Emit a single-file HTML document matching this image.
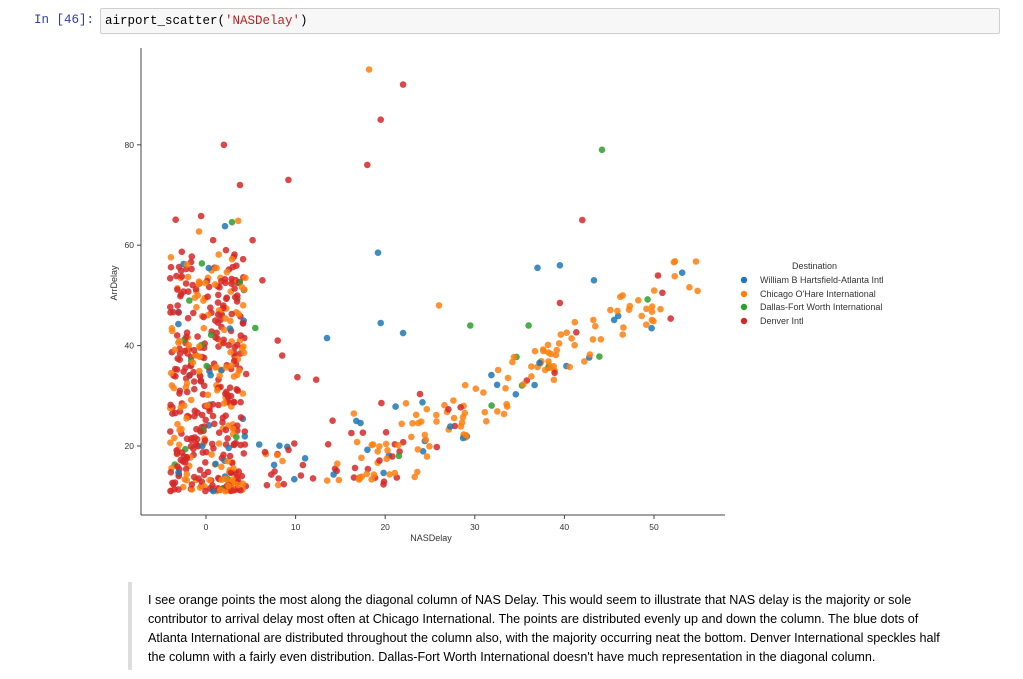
<!DOCTYPE html>
<html><head><meta charset="utf-8"><style>
body{margin:0;background:#fff;width:1023px;height:679px;overflow:hidden;position:relative;font-family:"Liberation Sans",sans-serif}
.prompt{position:absolute;left:34px;top:13px;font:12.5px "Liberation Mono",monospace;color:#303f9f}
.cell{position:absolute;left:100px;top:8px;width:900px;height:26px;background:#f7f7f7;border:1px solid #cfcfcf;border-radius:2px;box-sizing:border-box;font:12.5px "Liberation Mono",monospace;padding:5px 4px;color:#000}
.s{color:#ba2121}
.quote{position:absolute;left:128px;top:582px;width:4px;height:88px;background:#ddd}
.txt{position:absolute;left:148px;top:591px;width:860px;font-size:12.6px;line-height:19px;color:#000;white-space:nowrap}
</style></head><body>
<div class="prompt">In [46]:</div>
<div class="cell">airport_scatter(<span class="s">'NASDelay'</span>)</div>
<svg id="c" width="1023" height="679" style="position:absolute;left:0;top:0" font-family="Liberation Sans, sans-serif">
<g id="pts"></g>
<line x1="141" y1="48" x2="141" y2="515" stroke="#444" stroke-width="1"/>
<line x1="141" y1="515" x2="725" y2="515" stroke="#444" stroke-width="1"/>
<g font-size="8.5" fill="#333" text-anchor="middle">
<g id="xt"></g><g id="yt" text-anchor="end"></g>
<text x="431" y="541" font-size="9">NASDelay</text>
<text x="117" y="283" font-size="9" transform="rotate(-90 117 283)">ArrDelay</text>
</g>
<g font-size="9" fill="#333">
<text x="792" y="269">Destination</text>
<circle cx="744" cy="280" r="3.2" fill="#1f77b4"/><text x="760" y="283">William B Hartsfield-Atlanta Intl</text>
<circle cx="744" cy="294" r="3.2" fill="#ff7f0e"/><text x="760" y="297">Chicago O'Hare International</text>
<circle cx="744" cy="307" r="3.2" fill="#2ca02c"/><text x="760" y="310">Dallas-Fort Worth International</text>
<circle cx="744" cy="321" r="3.2" fill="#d62728"/><text x="760" y="324">Denver Intl</text>
</g>
</svg>
<div class="quote"></div>
<div class="txt">I see orange points the most along the diagonal column of NAS Delay. This would seem to illustrate that NAS delay is the majority or sole<br>contributor to arrival delay most often at Chicago International. The points are distributed evenly up and down the column. The blue dots of<br>Atlanta International are distributed throughout the column also, with the majority occurring neat the bottom. Denver International speckles half<br>the column with a fairly even distribution. Dallas-Fort Worth International doesn't have much representation in the diagonal column.</div>
<script>
var ns="http://www.w3.org/2000/svg";
function X(v){return 206+8.96*v}function Y(v){return 446-(v-20)*5.02}
var xt=document.getElementById('xt'),yt=document.getElementById('yt');
[0,10,20,30,40,50].forEach(function(v){var l=document.createElementNS(ns,'line');l.setAttribute('x1',X(v));l.setAttribute('x2',X(v));l.setAttribute('y1',515);l.setAttribute('y2',519);l.setAttribute('stroke','#444');xt.appendChild(l);var t=document.createElementNS(ns,'text');t.setAttribute('x',X(v));t.setAttribute('y',530);t.textContent=v;xt.appendChild(t);});
[20,40,60,80].forEach(function(v){var l=document.createElementNS(ns,'line');l.setAttribute('x1',137);l.setAttribute('x2',141);l.setAttribute('y1',Y(v));l.setAttribute('y2',Y(v));l.setAttribute('stroke','#444');yt.appendChild(l);var t=document.createElementNS(ns,'text');t.setAttribute('x',134);t.setAttribute('y',Y(v)+3);t.textContent=v;yt.appendChild(t);});
var seed=7;function r(){seed=(seed*16807)%2147483647;return (seed-1)/2147483646}
var C=['#1f77b4','#ff7f0e','#2ca02c','#d62728'];var P=[];
function add(x,y,c){P.push([x,y,c])}
for(var i=0;i<480;i++){var x=-4+r()*8.5;var y=11+Math.pow(r(),1.5)*48;if(r()<0.12)y=11+r()*55;var q=r();var c=q<0.6?3:q<0.9?1:q<0.95?0:2;add(x,y,c)}
for(var i=0;i<60;i++){var x=5+r()*20;var y=12+r()*(x<12?10:13+(x-12)*0.5);var q=r();add(x,y,q<0.45?3:q<0.8?1:0)}
for(var i=0;i<150;i++){var x=17+r()*38;var base=12+(x-17)*1.05;var y=base+(r()-0.3)*11;if(y<12)y=12+r()*3;var q=r();add(x,y,q<0.75?1:q<0.87?0:q<0.95?3:2)}
[[18.2,95,1],[22,92,3],[19.5,85,3],[18,76,3],[2,80,3],[9.2,73,3],[3.8,72,3],[44.2,79,2],[42,65,3],[19.2,58.5,0],[39.5,56,0],[37,55.5,0],[43.3,53,0],[13.5,41.5,0],[19.5,44.5,0],[22,42.5,0],[29.5,44,2],[36,44,2],[26,48,1],[39.5,48.5,3],[8,41,3],[8.5,38,3],[10.2,33.7,3],[12.3,33.2,3],[5.5,43.5,2],[6.3,53,3],[5.2,61,3]].forEach(function(p){add(p[0],p[1],p[2])});
var g=document.getElementById('pts');
P.forEach(function(p){var e=document.createElementNS(ns,'circle');e.setAttribute('cx',X(p[0]).toFixed(1));e.setAttribute('cy',Y(p[1]).toFixed(1));e.setAttribute('r',3.3);e.setAttribute('fill',C[p[2]]);e.setAttribute('fill-opacity',0.85);g.appendChild(e)});
</script>
</body></html>
